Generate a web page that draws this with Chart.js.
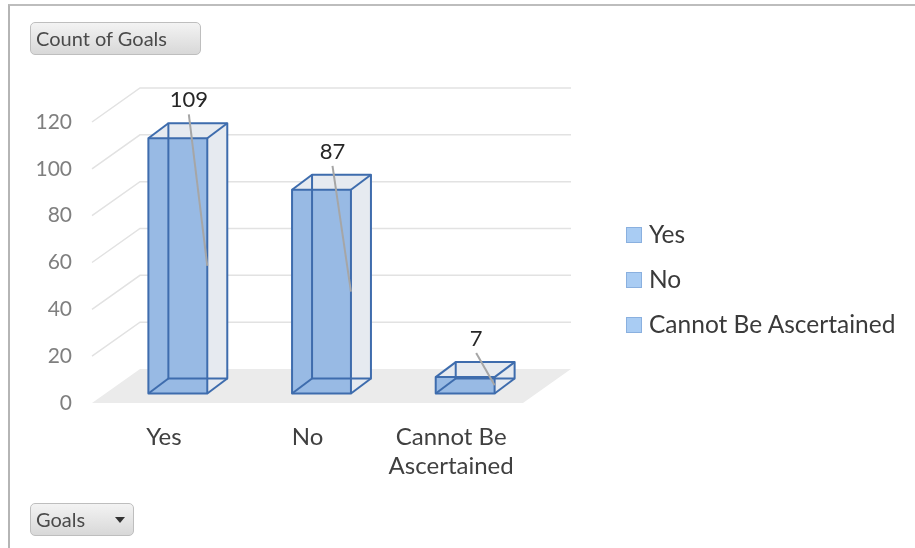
<!DOCTYPE html>
<html>
<head>
<meta charset="utf-8">
<script src="https://cdn.jsdelivr.net/npm/chart.js@4.4.1/dist/chart.umd.min.js"></script>
<style>
  html, body { margin: 0; padding: 0; background: #fff; }
  body { width: 915px; height: 548px; position: relative; overflow: hidden; font-family: Lato, "Open Sans", sans-serif; }
  #frame { position: absolute; left: 8px; top: 4px; width: 920px; height: 560px;
    border-top: 2px solid #BDBDBD; border-left: 2px solid #B5B5B5; }
  #chart { position: absolute; left: 0; top: 0; }
  .field-btn { position: absolute; box-sizing: border-box; height: 33px; border: 1px solid #BEBEBE; border-radius: 5px;
    background: linear-gradient(#F3F3F3, #D8D8D8); color: #4A4A4A; font-size: 20px; line-height: 31px; padding-left: 5px; }
  #values-btn { left: 30px; top: 22px; width: 171px; }
  #axis-btn { left: 30px; top: 503px; width: 104px; }
  #axis-btn .arrow { position: absolute; left: 84px; top: 13px; width: 0; height: 0;
    border-left: 5px solid transparent; border-right: 5px solid transparent; border-top: 6px solid #333; }
  #legend { position: absolute; left: 626px; top: 0; }
  .legend-item { position: absolute; left: 0; white-space: nowrap; font-size: 24.5px; color: #3A3A3A; height: 30px; line-height: 30px; }
  .legend-item .swatch { position: absolute; left: 0; top: 8px; width: 14px; height: 14px; background: #A9CCF3; border: 1px solid #8AB0DF; }
  .legend-item span { position: absolute; left: 23px; top: 0; }
</style>
</head>
<body>
<div id="frame"></div>
<canvas id="chart" width="915" height="548"></canvas>
<div class="field-btn" id="values-btn">Count of Goals</div>
<div class="field-btn" id="axis-btn">Goals<div class="arrow"></div></div>
<div id="legend"></div>
<script>
const categories = ['Yes', 'No', 'Cannot Be Ascertained'];
const axisLabels = [['Yes'], ['No'], ['Cannot Be', 'Ascertained']];
const goalCounts = [109, 87, 7];
const yTickMax = 120;
const yTickStep = 20;

// depth of the floor and of each column, in pixels (x to the right, y upwards)
const depth = { floorX: 48, floorY: 34, barX: 20, barY: 15 };
const gapX = (depth.floorX - depth.barX) / 2;
const gapY = (depth.floorY - depth.barY) / 2;

function path(ctx, pts) {
  ctx.beginPath();
  ctx.moveTo(pts[0][0], pts[0][1]);
  for (let i = 1; i < pts.length; i++) ctx.lineTo(pts[i][0], pts[i][1]);
  ctx.closePath();
}

function drawColumn(ctx, bar) {
  const l = bar.x - bar.width / 2 + gapX, r = l + bar.width;
  const t = bar.y - gapY, b = bar.base - gapY;
  const dx = depth.barX, dy = depth.barY;

  ctx.fillStyle = '#E6EAF0';
  path(ctx, [[r, t], [r + dx, t - dy], [r + dx, b - dy], [r, b]]);
  ctx.fill();
  path(ctx, [[l, t], [l + dx, t - dy], [r + dx, t - dy], [r, t]]);
  ctx.fill();

  ctx.fillStyle = '#98BAE4';
  ctx.fillRect(l, t, r - l, b - t);

  // every edge shows, the column is see-through
  ctx.strokeStyle = '#3E6CAD';
  ctx.lineWidth = 2;
  ctx.lineJoin = 'round';
  ctx.strokeRect(l + dx, t - dy, r - l, b - t);
  ctx.strokeRect(l, t, r - l, b - t);
  [[l, t], [r, t], [r, b], [l, b]].forEach(([px, py]) => {
    ctx.beginPath();
    ctx.moveTo(px, py);
    ctx.lineTo(px + dx, py - dy);
    ctx.stroke();
  });
}

const columns3d = {
  id: 'columns3d',
  beforeDatasetsDraw(chart) {
    const { ctx, chartArea: a, scales: { y } } = chart;
    const fx = depth.floorX, fy = depth.floorY;
    ctx.save();

    // floor
    ctx.fillStyle = '#EBEBEB';
    path(ctx, [[a.left, a.bottom], [a.right, a.bottom], [a.right + fx, a.bottom - fy], [a.left + fx, a.bottom - fy]]);
    ctx.fill();

    // gridlines along the side wall and back wall
    ctx.strokeStyle = '#E2E2E2';
    ctx.lineWidth = 1.5;
    y.ticks.forEach(tick => {
      if (tick.value === 0) return;
      const py = y.getPixelForValue(tick.value);
      ctx.beginPath();
      ctx.moveTo(a.left, py);
      ctx.lineTo(a.left + fx, py - fy);
      ctx.lineTo(a.right + fx, py - fy);
      ctx.stroke();
    });

    chart.getDatasetMeta(0).data.forEach(bar => drawColumn(ctx, bar));
    ctx.restore();
  },
  afterDatasetsDraw(chart) {
    const { ctx } = chart;
    ctx.save();
    ctx.font = '22px Lato';
    ctx.fillStyle = '#262626';
    ctx.textAlign = 'center';
    ctx.textBaseline = 'middle';
    chart.getDatasetMeta(0).data.forEach((bar, i) => {
      const right = bar.x + bar.width / 2 + gapX;
      const mid = (bar.y + bar.base) / 2 - gapY;
      const lx = bar.x + gapX + 11;
      const ly = bar.y - gapY - depth.barY - 23;
      ctx.strokeStyle = '#A6A6A6';
      ctx.lineWidth = 2;
      ctx.beginPath();
      ctx.moveTo(lx, ly + 14);
      ctx.lineTo(right, mid);
      ctx.stroke();
      ctx.fillText(String(goalCounts[i]), lx, ly);
    });
    ctx.restore();
  }
};

new Chart(document.getElementById('chart'), {
  type: 'bar',
  data: {
    labels: axisLabels,
    datasets: [{
      label: 'Count of Goals',
      data: goalCounts,
      backgroundColor: 'rgba(0,0,0,0)',
      borderWidth: 0,
      categoryPercentage: 1,
      barPercentage: 0.41
    }]
  },
  options: {
    responsive: false,
    animation: false,
    layout: { padding: { top: 122, left: 20, right: 392, bottom: 67 } },
    plugins: { legend: { display: false }, tooltip: { enabled: false } },
    scales: {
      x: {
        grid: { display: false, drawTicks: false },
        border: { display: false },
        ticks: { color: '#404040', font: { family: 'Lato', size: 24, lineHeight: '29px' }, padding: 20, maxRotation: 0, autoSkip: false },
        afterFit(scale) { scale.height = 78; }
      },
      y: {
        min: 0,
        max: yTickMax,
        grid: { display: false, drawTicks: false },
        border: { display: false },
        ticks: { stepSize: yTickStep, color: '#7F7F7F', font: { family: 'Lato', size: 21 }, padding: 20 },
        afterFit(scale) { scale.width = 72; }
      }
    }
  },
  plugins: [columns3d]
});

// legend, one entry per category
const legend = document.getElementById('legend');
const legendRows = [219, 264, 309];
categories.forEach((name, i) => {
  const item = document.createElement('div');
  item.className = 'legend-item';
  item.style.top = legendRows[i] + 'px';
  item.innerHTML = '<div class="swatch"></div><span></span>';
  item.querySelector('span').textContent = name;
  legend.appendChild(item);
});
</script>
</body>
</html>
